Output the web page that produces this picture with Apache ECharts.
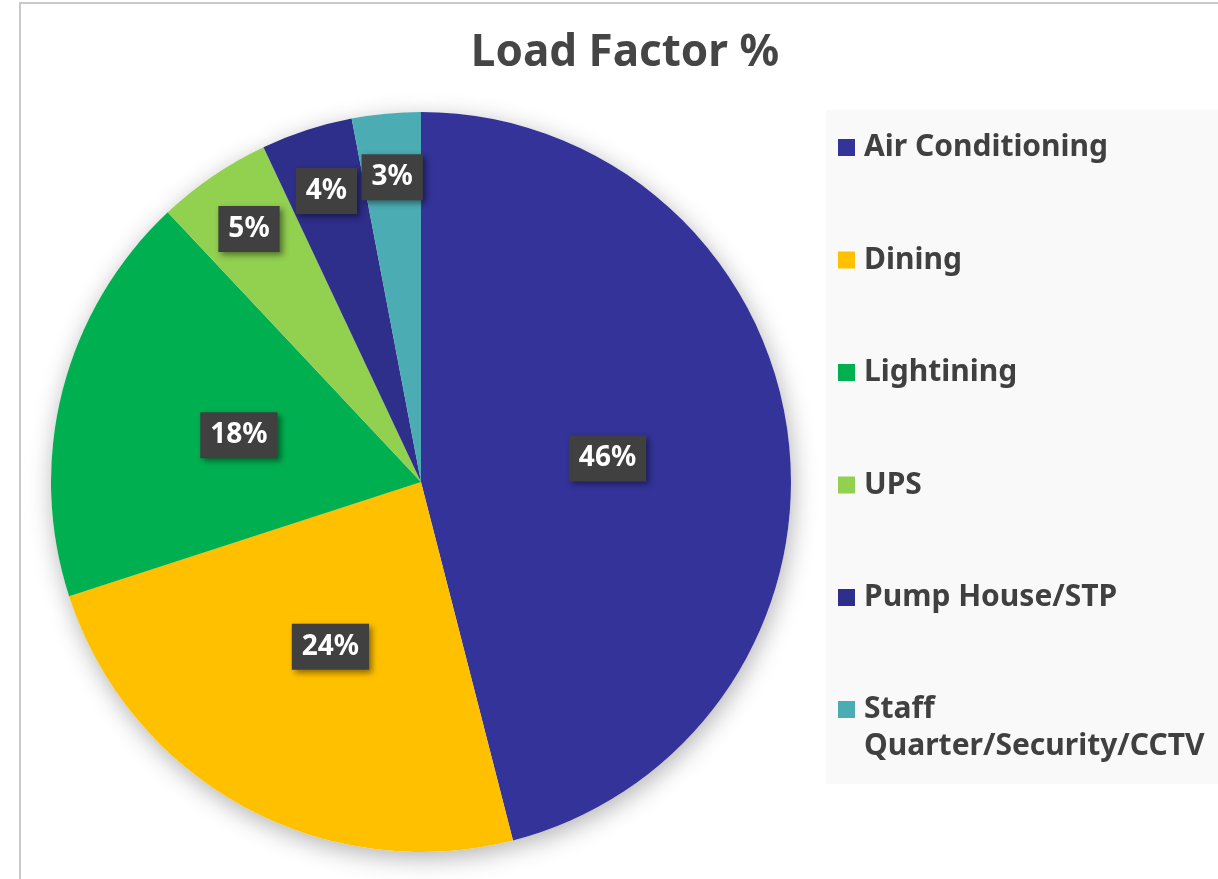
<!DOCTYPE html>
<html>
<head>
<meta charset="utf-8">
<title>Load Factor %</title>
<script src="https://cdn.jsdelivr.net/npm/echarts@6/dist/echarts.min.js"></script>
<style>
  html, body { margin: 0; padding: 0; background: #fff; overflow: hidden; }
  #frame { position: absolute; left: 19px; top: 2px; width: 1400px; height: 1000px; border: 2px solid #c9c9c9; box-sizing: border-box; }
  #chart { position: absolute; left: 0; top: 0; width: 1218px; height: 879px; }
</style>
</head>
<body>
<div id="frame"></div>
<div id="chart"></div>
<script>
// data
var categories = ['Air Conditioning', 'Dining', 'Lightining', 'UPS', 'Pump House/STP', 'Staff Quarter/Security/CCTV'];
var loadFactor = [46, 24, 18, 5, 4, 3];
var sliceColors = ['#333399', '#FFC000', '#00B050', '#92D050', '#2E2E8B', '#4BACB3'];

var FONT = '"Noto Sans", "Open Sans", sans-serif';
var CENTER = [421, 482];

function isSmall(v) { return v < 10; }

var labelBox = {
    color: '#fff',
    fontFamily: FONT,
    fontWeight: 'bold',
    fontSize: 28,
    lineHeight: 34,
    padding: [6, 10],
    backgroundColor: '#404040',
    shadowColor: 'rgba(0,0,0,0.45)',
    shadowBlur: 6,
    shadowOffsetX: 3,
    shadowOffsetY: 3,
    formatter: '{c}%'
};

var legendText = {
    fontFamily: FONT,
    fontWeight: 'bold',
    fontSize: 30,
    lineHeight: 37,
    color: '#404040',
    padding: [0, 0, 0, 4]
};

var mainData = categories.map(function (name, i) {
    return {
        name: name,
        value: loadFactor[i],
        itemStyle: { color: sliceColors[i] },
        label: { show: !isSmall(loadFactor[i]) }
    };
});

// small slices get their labels further out, like excel's best fit
var outerLabelData = categories.map(function (name, i) {
    return {
        name: name,
        value: loadFactor[i],
        label: { show: isSmall(loadFactor[i]) }
    };
});

var shadowData = categories.map(function (name, i) {
    return { name: name, value: loadFactor[i] };
});

var chart = echarts.init(document.getElementById('chart'), null, { renderer: 'canvas' });

var option = {
    backgroundColor: 'transparent',
    animation: false,
    title: {
        text: 'Load Factor %',
        left: 620,
        top: 26,
        textAlign: 'center',
        textStyle: {
            fontFamily: FONT,
            fontWeight: 'bold',
            fontSize: 44,
            color: '#454545'
        }
    },
    graphic: [{
        type: 'rect',
        z: -10,
        silent: true,
        shape: { x: 826, y: 110, width: 420, height: 674 },
        style: { fill: '#f9f9f9' }
    }],
    legend: [{
        orient: 'vertical',
        left: 838,
        top: 129,
        padding: 0,
        itemWidth: 17,
        itemHeight: 17,
        itemGap: 75.5,
        icon: 'rect',
        data: categories.slice(0, 5),
        textStyle: legendText
    }, {
        orient: 'vertical',
        left: 838,
        top: 654,
        padding: 0,
        itemWidth: 17,
        itemHeight: 17,
        icon: 'rect',
        data: categories.slice(5),
        formatter: function (name) {
            return '\n' + name.replace('Staff ', 'Staff\n');
        },
        textStyle: legendText
    }],
    series: [{
        name: 'Load Factor %',
        type: 'pie',
        z: 3,
        center: CENTER,
        radius: [0, 370],
        startAngle: 90,
        clockwise: true,
        label: Object.assign({ position: 'inside' }, labelBox),
        labelLine: { show: false },
        emphasis: { disabled: true },
        data: mainData
    }, {
        name: 'labels',
        type: 'pie',
        z: 4,
        silent: true,
        center: CENTER,
        radius: [236, 370],
        startAngle: 90,
        clockwise: true,
        itemStyle: { color: 'rgba(0,0,0,0)' },
        label: Object.assign({ position: 'inside' }, labelBox),
        labelLine: { show: false },
        emphasis: { disabled: true },
        data: outerLabelData
    }, {
        name: 'shadow',
        type: 'pie',
        z: 1,
        silent: true,
        center: CENTER,
        radius: [0, 370],
        startAngle: 90,
        clockwise: true,
        itemStyle: {
            color: '#ffffff',
            shadowColor: 'rgba(0,0,0,0.3)',
            shadowBlur: 25,
            shadowOffsetX: 2,
            shadowOffsetY: 6
        },
        label: { show: false },
        labelLine: { show: false },
        emphasis: { disabled: true },
        data: shadowData
    }]
};

chart.setOption(option);
window.addEventListener('resize', chart.resize);
</script>
</body>
</html>
